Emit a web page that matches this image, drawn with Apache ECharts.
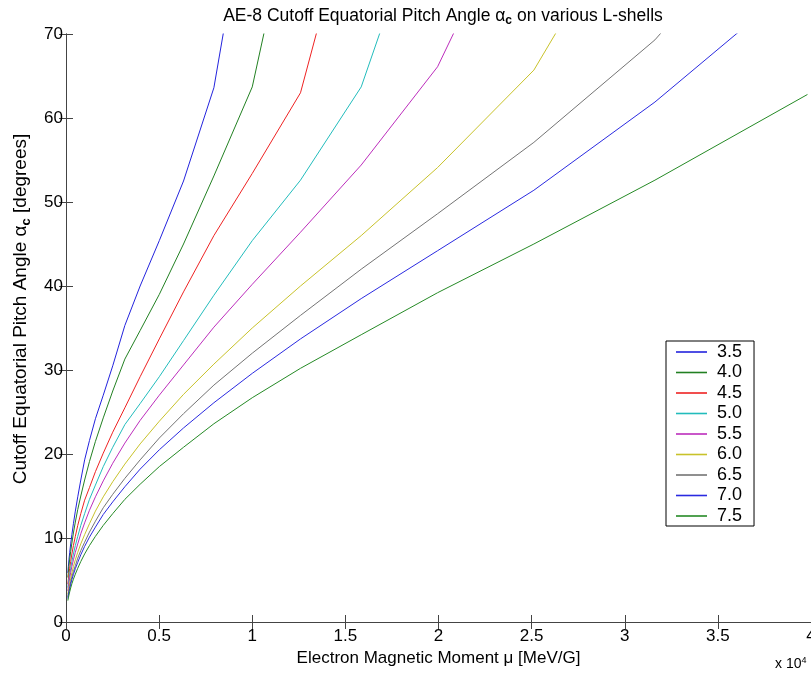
<!DOCTYPE html>
<html>
<head>
<meta charset="utf-8">
<script src="https://cdn.jsdelivr.net/npm/echarts@6/dist/echarts.min.js"></script>
<style>
html,body{margin:0;padding:0;background:#fff;overflow:hidden;}
#c{width:811px;height:677px;}
</style>
</head>
<body>
<div id="c"></div>
<script>
// Electron magnetic moment mu, in units of 10^4 MeV/G
var mu = [0.01, 0.0126, 0.0158, 0.02, 0.0251, 0.0316, 0.0398, 0.0501, 0.0631, 0.0794,
          0.1, 0.126, 0.158, 0.2, 0.251, 0.316, 0.398, 0.501, 0.631, 0.794,
          1.0, 1.259, 1.585, 1.995, 2.512, 3.162, 3.981];
var lShells = ['3.5', '4.0', '4.5', '5.0', '5.5', '6.0', '6.5', '7.0', '7.5'];
var aL35 = [5.85, 6.6, 7.4, 8.3, 9.3, 10.4, 11.7, 13.2, 14.9, 16.9, 19.3, 21.6, 24.2, 27.0, 30.5, 35.3, 40.0, 45.4, 52.5, 63.6, 90, 90, 90, 90, 90, 90, 90];
var aL40 = [5.3, 5.9, 6.7, 7.5, 8.4, 9.4, 10.6, 11.9, 13.4, 15.0, 16.9, 19.1, 21.5, 24.3, 27.5, 31.3, 34.7, 39.0, 45.0, 53.1, 63.7, 90, 90, 90, 90, 90, 90];
var aL45 = [4.5, 5.1, 5.7, 6.4, 7.2, 8.1, 9.1, 10.2, 11.5, 12.9, 14.5, 16.0, 17.9, 20.1, 22.6, 25.5, 29.2, 33.7, 39.3, 46.0, 53.4, 63.0, 90, 90, 90, 90, 90];
var aL50 = [4.1, 4.6, 5.1, 5.75, 6.4, 7.2, 8.1, 9.1, 10.2, 11.5, 12.9, 14.6, 16.3, 18.5, 20.8, 23.5, 26.0, 29.2, 33.5, 38.9, 45.4, 52.6, 63.7, 90, 90, 90, 90];
var aL55 = [3.7, 4.2, 4.65, 5.25, 5.9, 6.6, 7.4, 8.3, 9.3, 10.5, 11.8, 13.3, 14.9, 16.8, 18.9, 21.3, 24.0, 27.0, 30.6, 35.1, 40.2, 46.4, 54.4, 66.1, 90, 90, 90];
var aL60 = [3.3, 3.7, 4.1, 4.65, 5.2, 5.85, 6.6, 7.4, 8.3, 9.3, 10.4, 11.7, 13.2, 14.9, 16.7, 18.8, 21.2, 23.9, 27.1, 30.7, 35.0, 40.0, 46.0, 54.1, 65.7, 90, 90];
var aL65 = [3.0, 3.4, 3.8, 4.25, 4.8, 5.35, 6.0, 6.7, 7.6, 8.5, 9.5, 10.7, 12.0, 13.6, 15.2, 17.1, 19.3, 21.9, 24.8, 28.2, 32.0, 36.5, 42.0, 48.6, 57.1, 69.3, 90];
var aL70 = [2.8, 3.2, 3.55, 4.0, 4.5, 5.05, 5.65, 6.35, 7.1, 8.0, 9.0, 10.1, 11.3, 12.8, 14.3, 16.1, 18.2, 20.5, 23.1, 26.1, 29.6, 33.7, 38.5, 44.2, 51.4, 61.9, 77.1];
var aL75 = [2.55, 2.87, 3.2, 3.6, 4.05, 4.55, 5.1, 5.7, 6.4, 7.2, 8.1, 9.1, 10.2, 11.5, 12.9, 14.6, 16.4, 18.5, 20.8, 23.6, 26.7, 30.2, 34.2, 39.2, 45.0, 52.6, 62.8];
var xTicks = [0, 0.5, 1, 1.5, 2, 2.5, 3, 3.5, 4];
var yTicks = [0, 10, 20, 30, 40, 50, 60, 70];

var curves = [aL35, aL40, aL45, aL50, aL55, aL60, aL65, aL70, aL75];
var colors = ['#2323dd', '#228022', '#ee2222', '#22bcbc', '#bc2dbc', '#c8c22a', '#747474', '#2a2ae0', '#258a25'];
var FONT = 'Liberation Sans, Arial, sans-serif';

var series = curves.map(function (arr, k) {
  return {
    name: lShells[k],
    type: 'line',
    data: mu.map(function (m, i) { return [m, arr[i]]; }),
    symbol: 'none',
    showSymbol: false,
    clip: true,
    lineStyle: { width: 1, color: colors[k] },
    itemStyle: { color: colors[k] },
    animation: false,
    z: 2
  };
});

var axisCommon = {
  axisLine: { show: true, lineStyle: { color: '#444', width: 1 } },
  axisTick: { show: true, inside: true, length: 7, lineStyle: { color: '#444' } },
  splitLine: { show: false }
};

var chart = echarts.init(document.getElementById('c'), null, { renderer: 'canvas' });
chart.setOption({
  backgroundColor: '#fff',
  animation: false,
  title: {
    text: 'AE-8 Cutoff Equatorial Pitch Angle {a|α}{s|c} on various L-shells',
    left: 438, top: 0, textAlign: 'center',
    textStyle: {
      fontFamily: FONT, fontSize: 17.5, fontWeight: 'normal', color: '#000',
      rich: {
        a: { fontFamily: FONT, fontSize: 17.5, color: '#000' },
        s: { fontFamily: FONT, fontSize: 12, fontWeight: 'bold', color: '#000', padding: [10, 0, 0, 0] }
      }
    }
  },
  grid: { left: 66, top: 34, width: 745, height: 588, containLabel: false, outerBoundsMode: 'none' },
  legend: {
    orient: 'vertical',
    left: 666, top: 341,
    icon: 'rect',
    itemWidth: 31, itemHeight: 1.6, itemGap: 2.5,
    padding: [2, 12, 1, 10],
    borderColor: '#000', borderWidth: 1, borderRadius: 0,
    backgroundColor: '#fff',
    itemStyle: { borderWidth: 0 },
    textStyle: { fontFamily: FONT, fontSize: 18, lineHeight: 18, color: '#000', padding: [0, 0, 0, 5] },
    data: lShells.map(function (n, k) {
      return { name: n, itemStyle: { color: colors[k], borderWidth: 0, opacity: 1 } };
    })
  },
  xAxis: [
    Object.assign({
      type: 'value', min: xTicks[0], max: xTicks[xTicks.length - 1], interval: 0.5,
      position: 'bottom',
      axisLabel: { show: true, fontFamily: FONT, fontSize: 17, color: '#000', margin: 6,
        formatter: function (v) { return String(v); } },
      name: 'Electron Magnetic Moment {m|μ} [MeV/G]',
      nameLocation: 'middle', nameGap: 24,
      nameTextStyle: { fontFamily: FONT, fontSize: 17, color: '#000',
        rich: { m: { fontFamily: FONT, fontSize: 17, color: '#000' } } }
    }, axisCommon),
    Object.assign({
      type: 'value', min: 0, max: 4, interval: 0.5, position: 'top',
      axisLabel: { show: false }
    }, axisCommon)
  ],
  yAxis: [
    Object.assign({
      type: 'value', min: yTicks[0], max: yTicks[yTicks.length - 1], interval: 10,
      position: 'left',
      axisLabel: { show: true, fontFamily: FONT, fontSize: 17, color: '#000', margin: 3 }
    }, axisCommon),
    Object.assign({
      type: 'value', min: 0, max: 70, interval: 10, position: 'right',
      axisLabel: { show: false }
    }, axisCommon)
  ],
  graphic: [{
    type: 'text', x: 21, y: 309, rotation: Math.PI / 2,
    style: {
      text: 'Cutoff Equatorial Pitch Angle {a|α}{s|c} [degrees]',
      fontFamily: FONT, fontSize: 19, fill: '#000',
      align: 'center', verticalAlign: 'middle',
      rich: {
        a: { fontFamily: FONT, fontSize: 19, fill: '#000' },
        s: { fontFamily: FONT, fontSize: 13, fontWeight: 'bold', fill: '#000', padding: [11, 0, 0, 0] }
      }
    }
  }, {
    type: 'text', left: 775, top: 656,
    style: {
      text: 'x 10{e|4}',
      fontFamily: FONT, fontSize: 14, fill: '#000',
      rich: { e: { fontFamily: FONT, fontSize: 9, fill: '#000', padding: [0, 0, 8, 0] } }
    }
  }],
  series: series
});
</script>
</body>
</html>
